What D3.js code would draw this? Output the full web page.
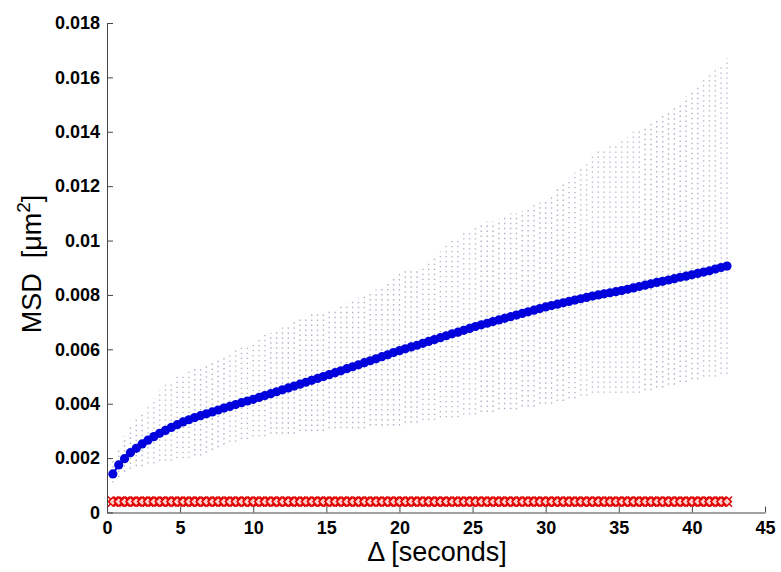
<!DOCTYPE html>
<html lang="en">
<head>
<meta charset="utf-8">
<title>MSD vs lag</title>
<script src="https://cdn.jsdelivr.net/npm/d3@7"></script>
<style>
body { margin: 0; background: #fff; }
.axis path, .axis line { stroke: #444; }
.axis text { font-family: "Liberation Sans", Arial, sans-serif; font-weight: bold; font-size: 18px; fill: #000; }
.label { font-family: "Liberation Sans", Arial, sans-serif; font-size: 27px; fill: #000; }
</style>
</head>
<body>
<script>
// lag times (s)
var lags = d3.range(1, 107).map(function(i) { return +(i * 0.4).toFixed(1); });

// mean MSD (um^2), blue dots
var msdMean = [
  0.00142, 0.00175, 0.00198, 0.00220, 0.00236, 0.00252, 0.00266, 0.00279, 0.00291, 0.00302,
  0.00313, 0.00323, 0.00333, 0.00341, 0.00349, 0.00356, 0.00363, 0.00370, 0.00377, 0.00384,
  0.00390, 0.00397, 0.00404, 0.00410, 0.00416, 0.00423, 0.00430, 0.00437, 0.00444, 0.00451,
  0.00458, 0.00465, 0.00472, 0.00479, 0.00486, 0.00493, 0.00500, 0.00507, 0.00514, 0.00521,
  0.00529, 0.00536, 0.00543, 0.00551, 0.00558, 0.00565, 0.00573, 0.00580, 0.00588, 0.00595,
  0.00602, 0.00609, 0.00615, 0.00622, 0.00629, 0.00636, 0.00643, 0.00650, 0.00657, 0.00663,
  0.00670, 0.00677, 0.00684, 0.00690, 0.00696, 0.00702, 0.00708, 0.00714, 0.00720, 0.00726,
  0.00732, 0.00738, 0.00744, 0.00750, 0.00756, 0.00761, 0.00766, 0.00771, 0.00776, 0.00781,
  0.00786, 0.00791, 0.00796, 0.00800, 0.00804, 0.00808, 0.00812, 0.00816, 0.00821, 0.00826,
  0.00831, 0.00836, 0.00841, 0.00846, 0.00850, 0.00855, 0.00860, 0.00865, 0.00869, 0.00874,
  0.00879, 0.00884, 0.00889, 0.00895, 0.00901, 0.00906
];

// upper end of the dotted spread
var msdUpper = [
  0.0019, 0.0024, 0.0028, 0.0032, 0.0035, 0.0037, 0.0040, 0.0042, 0.0045, 0.0047,
  0.0048, 0.0050, 0.0051, 0.0052, 0.0053, 0.0054, 0.0055, 0.0056, 0.0057, 0.0058,
  0.0059, 0.0060, 0.0061, 0.0062, 0.0063, 0.0064, 0.0066, 0.0066, 0.0067, 0.0068,
  0.0069, 0.0070, 0.0071, 0.0072, 0.0073, 0.0073, 0.0074, 0.0074, 0.0075, 0.0076,
  0.0077, 0.0078, 0.0079, 0.0080, 0.0081, 0.0082, 0.0083, 0.0084, 0.0086, 0.0088,
  0.0089, 0.0090, 0.0090, 0.0091, 0.0092, 0.0094, 0.0096, 0.0098, 0.0100, 0.0101,
  0.0103, 0.0104, 0.0105, 0.0106, 0.0107, 0.0107, 0.0108, 0.0109, 0.0110, 0.0110,
  0.0111, 0.0112, 0.0113, 0.0114, 0.0115, 0.0117, 0.0119, 0.0121, 0.0123, 0.0125,
  0.0127, 0.0129, 0.0131, 0.0133, 0.0134, 0.0135, 0.0136, 0.0137, 0.0138, 0.0140,
  0.0141, 0.0142, 0.0143, 0.0145, 0.0146, 0.0148, 0.0149, 0.0151, 0.0153, 0.0155,
  0.0157, 0.0159, 0.0161, 0.0163, 0.0165, 0.0167
];

// lower end of the dotted spread
var msdLower = [
  0.0011, 0.0013, 0.0015, 0.0016, 0.0017, 0.0017, 0.0018, 0.0018, 0.0019, 0.0019,
  0.0019, 0.0020, 0.0020, 0.0020, 0.0021, 0.0021, 0.0022, 0.0023, 0.0024, 0.0025,
  0.0026, 0.0026, 0.0027, 0.0027, 0.0028, 0.0028, 0.0028, 0.0029, 0.0029, 0.0029,
  0.0029, 0.0029, 0.0030, 0.0030, 0.0030, 0.0030, 0.0030, 0.0031, 0.0031, 0.0031,
  0.0031, 0.0031, 0.0031, 0.0031, 0.0032, 0.0032, 0.0032, 0.0032, 0.0032, 0.0032,
  0.0033, 0.0033, 0.0033, 0.0034, 0.0034, 0.0034, 0.0035, 0.0035, 0.0035, 0.0035,
  0.0036, 0.0036, 0.0036, 0.0037, 0.0037, 0.0037, 0.0038, 0.0038, 0.0038, 0.0038,
  0.0039, 0.0039, 0.0039, 0.0040, 0.0040, 0.0040, 0.0041, 0.0041, 0.0042, 0.0042,
  0.0043, 0.0043, 0.0044, 0.0044, 0.0044, 0.0044, 0.0044, 0.0044, 0.0044, 0.0044,
  0.0044, 0.0045, 0.0045, 0.0046, 0.0046, 0.0047, 0.0047, 0.0048, 0.0048, 0.0049,
  0.0049, 0.0050, 0.0050, 0.0050, 0.0051, 0.0051
];

// red reference series (flat)
var msdNoise = lags.map(function() { return 0.0004; });

var xTicks = [0, 5, 10, 15, 20, 25, 30, 35, 40, 45];
var yTicks = [0, 0.002, 0.004, 0.006, 0.008, 0.01, 0.012, 0.014, 0.016, 0.018];
var yTickLabels = ["0", "0.002", "0.004", "0.006", "0.008", "0.01", "0.012", "0.014", "0.016", "0.018"];

var w = 781, h = 572;
var padLeft = 107, padRight = 765, padTop = 23, padBottom = 512.5;

var svg = d3.select("body").append("svg")
  .attr("width", w)
  .attr("height", h);

var xScale = d3.scaleLinear().domain([0, 45]).range([padLeft, padRight]);
var yScale = d3.scaleLinear().domain([0, 0.018]).range([padBottom, padTop]);

var data = lags.map(function(t, i) {
  return { t: t, mean: msdMean[i], up: msdUpper[i], lo: msdLower[i], noise: msdNoise[i] };
});

// dotted spread bars
svg.append("g").selectAll("line")
  .data(data)
  .enter()
  .append("line")
  .attr("x1", function(d) { return xScale(d.t); })
  .attr("x2", function(d) { return xScale(d.t); })
  .attr("y1", function(d) { return yScale(d.lo); })
  .attr("y2", function(d) { return yScale(d.up); })
  .attr("stroke", "#aeb3c8")
  .attr("stroke-width", 1.4)
  .attr("stroke-dasharray", "1.4,3.6");

// blue mean curve
var line = d3.line()
  .x(function(d) { return xScale(d.t); })
  .y(function(d) { return yScale(d.mean); });

svg.append("path")
  .datum(data)
  .attr("d", line)
  .attr("fill", "none")
  .attr("stroke", "#0000dd")
  .attr("stroke-width", 2);

svg.append("g").selectAll("circle")
  .data(data)
  .enter()
  .append("circle")
  .attr("cx", function(d) { return xScale(d.t); })
  .attr("cy", function(d) { return yScale(d.mean); })
  .attr("r", 4.6)
  .attr("fill", "#0000dd");

// red flat series: line, x marks and open diamonds
var redLine = d3.line()
  .x(function(d) { return xScale(d.t); })
  .y(function(d) { return yScale(d.noise); });

svg.append("path")
  .datum(data)
  .attr("d", redLine)
  .attr("fill", "none")
  .attr("stroke", "#ee0000")
  .attr("stroke-width", 2.2);

var cross = d3.symbol().type(d3.symbolX).size(70);
var diamond = d3.symbol().type(d3.symbolDiamond2).size(50);

var red = svg.append("g").selectAll("g")
  .data(data)
  .enter()
  .append("g")
  .attr("transform", function(d) { return "translate(" + xScale(d.t) + "," + yScale(d.noise) + ")"; });

red.append("path")
  .attr("d", cross)
  .attr("fill", "none")
  .attr("stroke", "#e00000")
  .attr("stroke-width", 1.4);

red.append("path")
  .attr("d", diamond)
  .attr("fill", "#ffd0d0")
  .attr("stroke", "#e00000")
  .attr("stroke-width", 1.5);

// axes
var xAxis = d3.axisBottom(xScale)
  .tickValues(xTicks)
  .tickSizeInner(-6)
  .tickSizeOuter(0)
  .tickPadding(9);

var yAxis = d3.axisLeft(yScale)
  .tickValues(yTicks)
  .tickFormat(function(d, i) { return yTickLabels[i]; })
  .tickSizeInner(-6)
  .tickSizeOuter(0)
  .tickPadding(7);

svg.append("g")
  .attr("class", "axis")
  .attr("transform", "translate(0," + padBottom + ")")
  .call(xAxis);

svg.append("g")
  .attr("class", "axis")
  .attr("transform", "translate(" + padLeft + ",0)")
  .call(yAxis);

// labels
svg.append("text")
  .attr("class", "label")
  .attr("x", 437)
  .attr("y", 561)
  .attr("text-anchor", "middle")
  .text("\u0394 [seconds]");

var yl = svg.append("text")
  .attr("class", "label")
  .attr("transform", "translate(41,264) rotate(-90)")
  .attr("text-anchor", "middle");
yl.append("tspan").text("MSD\u00a0\u00a0[\u03bcm");
yl.append("tspan").attr("dy", -11).attr("font-size", 19).text("2");
yl.append("tspan").attr("dy", 11).text("]");
</script>
</body>
</html>
